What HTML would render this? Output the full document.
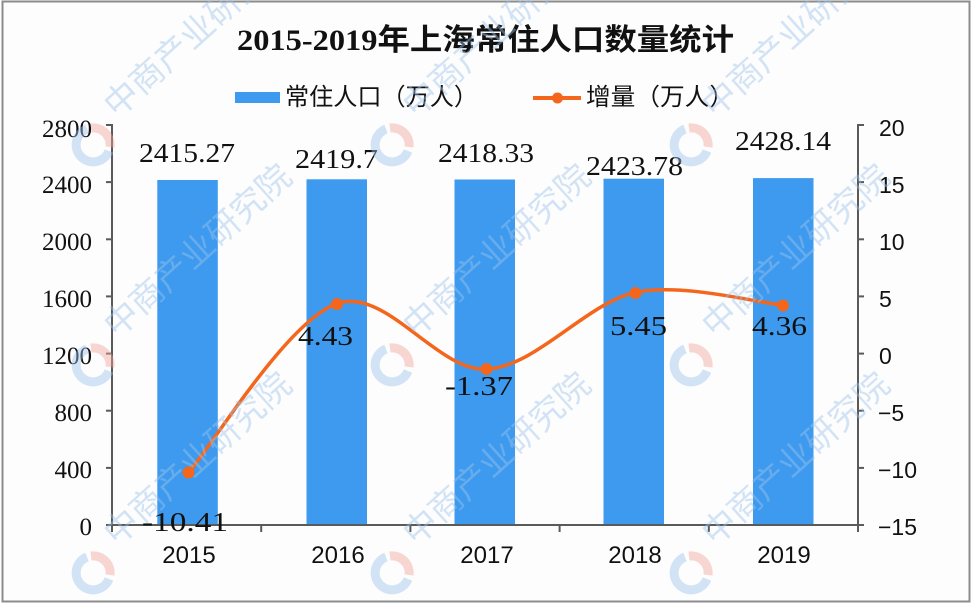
<!DOCTYPE html>
<html><head><meta charset="utf-8"><style>
html,body{margin:0;padding:0;background:#fff;}
svg{display:block;}
</style></head><body>
<svg width="972" height="604" viewBox="0 0 972 604" xmlns="http://www.w3.org/2000/svg">
<rect x="0" y="0" width="972" height="604" fill="#ffffff"/>
<rect x="2.5" y="1.5" width="967" height="600" fill="#fdfdfd" stroke="#8c8c8c" stroke-width="2"/>

<!-- title -->
<text x="237" y="50" font-family="Liberation Serif, 'Noto Sans CJK SC', sans-serif" font-weight="bold" font-size="30" textLength="497" lengthAdjust="spacingAndGlyphs" fill="#111">2015-2019年上海常住人口数量统计</text>

<!-- legend -->
<rect x="235" y="92" width="45" height="11" fill="#3d9aee"/>
<text x="285" y="105" font-family="'Liberation Sans','Noto Sans CJK SC',sans-serif" font-size="24" textLength="193" lengthAdjust="spacingAndGlyphs" fill="#111">常住人口（万人）</text>
<line x1="533" y1="98" x2="581" y2="98" stroke="#f4661c" stroke-width="4"/>
<circle cx="557.5" cy="98" r="5.5" fill="#f4661c"/>
<text x="586" y="105" font-family="'Liberation Sans','Noto Sans CJK SC',sans-serif" font-size="24" textLength="148" lengthAdjust="spacingAndGlyphs" fill="#111">增量（万人）</text>

<!-- bars -->
<g fill="#3d9aee">
<rect x="157.3" y="180" width="60.5" height="345"/>
<rect x="306.5" y="179.3" width="60.5" height="345.7"/>
<rect x="454.5" y="179.5" width="60.5" height="345.5"/>
<rect x="603.5" y="178.7" width="60.5" height="346.3"/>
<rect x="753" y="178.1" width="60.5" height="346.9"/>
</g>

<!-- axes -->
<g stroke="#5a5a5a" stroke-width="2" fill="none">
<line x1="112" y1="124" x2="112" y2="526"/>
<line x1="858" y1="124" x2="858" y2="526"/>
<line x1="111" y1="525" x2="859" y2="525"/>
<!-- left ticks -->
<line x1="106" y1="125" x2="112" y2="125"/>
<line x1="106" y1="182.1" x2="112" y2="182.1"/>
<line x1="106" y1="239.3" x2="112" y2="239.3"/>
<line x1="106" y1="296.4" x2="112" y2="296.4"/>
<line x1="106" y1="353.6" x2="112" y2="353.6"/>
<line x1="106" y1="410.7" x2="112" y2="410.7"/>
<line x1="106" y1="467.9" x2="112" y2="467.9"/>
<line x1="106" y1="525" x2="112" y2="525"/>
<!-- right ticks -->
<line x1="858" y1="125" x2="864" y2="125"/>
<line x1="858" y1="182.1" x2="864" y2="182.1"/>
<line x1="858" y1="239.3" x2="864" y2="239.3"/>
<line x1="858" y1="296.4" x2="864" y2="296.4"/>
<line x1="858" y1="353.6" x2="864" y2="353.6"/>
<line x1="858" y1="410.7" x2="864" y2="410.7"/>
<line x1="858" y1="467.9" x2="864" y2="467.9"/>
<line x1="858" y1="525" x2="864" y2="525"/>
<!-- x ticks -->
<line x1="112" y1="525" x2="112" y2="532"/>
<line x1="261.2" y1="525" x2="261.2" y2="532"/>
<line x1="410.4" y1="525" x2="410.4" y2="532"/>
<line x1="559.6" y1="525" x2="559.6" y2="532"/>
<line x1="708.8" y1="525" x2="708.8" y2="532"/>
<line x1="858" y1="525" x2="858" y2="532"/>
</g>

<!-- left axis labels -->
<g font-family="'Liberation Serif',serif" font-size="25" fill="#111" text-anchor="end">
<text x="92" y="137">2800</text>
<text x="92" y="193">2400</text>
<text x="92" y="250">2000</text>
<text x="92" y="307">1600</text>
<text x="92" y="364">1200</text>
<text x="92" y="421">800</text>
<text x="92" y="478">400</text>
<text x="92" y="535">0</text>
</g>
<!-- right axis labels -->
<g font-family="'Liberation Sans',sans-serif" font-size="23" fill="#111">
<text x="879" y="136">20</text>
<text x="879" y="193">15</text>
<text x="879" y="250">10</text>
<text x="879" y="307">5</text>
<text x="879" y="364">0</text>
<text x="878" y="421">−5</text>
<text x="878" y="478">−10</text>
<text x="878" y="535">−15</text>
</g>
<!-- x labels -->
<g font-family="'Liberation Sans',sans-serif" font-size="24" fill="#111" text-anchor="middle">
<text x="189" y="563">2015</text>
<text x="338" y="563">2016</text>
<text x="487" y="563">2017</text>
<text x="635" y="563">2018</text>
<text x="784" y="563">2019</text>
</g>

<!-- bar data labels -->
<g font-family="'Liberation Serif',serif" font-size="27" fill="#111" lengthAdjust="spacingAndGlyphs">
<text x="139" y="162" textLength="96" lengthAdjust="spacingAndGlyphs">2415.27</text>
<text x="295" y="168" textLength="83" lengthAdjust="spacingAndGlyphs">2419.7</text>
<text x="438" y="162" textLength="96" lengthAdjust="spacingAndGlyphs">2418.33</text>
<text x="586" y="175" textLength="97" lengthAdjust="spacingAndGlyphs">2423.78</text>
<text x="735" y="150" textLength="96" lengthAdjust="spacingAndGlyphs">2428.14</text>
</g>

<!-- line -->
<path d="M188.5,472.5 C213.2,444.4 286.9,321.3 337,303.5 C386.1,286.8 436.3,370.8 486,369.2 C535.8,367.2 585.5,303.6 635,292.5 C684.5,282.4 758.3,303.4 783,305" fill="none" stroke="#f4661c" stroke-width="3.5" stroke-linejoin="round"/>
<g fill="#f4661c">
<circle cx="188.5" cy="472.5" r="6"/>
<circle cx="337" cy="304" r="6"/>
<circle cx="486.5" cy="369" r="6"/>
<circle cx="635.5" cy="293" r="6"/>
<circle cx="783" cy="305.5" r="6"/>
</g>

<!-- line labels -->
<g font-family="'Liberation Serif',serif" font-size="27" fill="#111">
<text x="142" y="531" textLength="86" lengthAdjust="spacingAndGlyphs">-10.41</text>
<text x="298" y="345" textLength="55" lengthAdjust="spacingAndGlyphs">4.43</text>
<text x="445" y="395" textLength="68" lengthAdjust="spacingAndGlyphs">-1.37</text>
<text x="610" y="335" textLength="57" lengthAdjust="spacingAndGlyphs">5.45</text>
<text x="752" y="335" textLength="55" lengthAdjust="spacingAndGlyphs">4.36</text>
</g>

<!-- watermarks -->
<g opacity="0.45">
<g id="wm1" transform="translate(93,145)">
<path d="M -6 -16 A 17 17 0 1 0 16 6" fill="none" stroke="#9cc3ea" stroke-width="9"/>
<path d="M -2 -17 A 17 17 0 0 1 17 2" fill="none" stroke="#f0a49a" stroke-width="9"/>
<text x="24" y="-26" transform="rotate(-42 24 -26)" font-family="'Noto Sans CJK SC',sans-serif" font-size="34" fill="#9cc3ea">中商产业研究院</text>
</g>
<g transform="translate(392,145)">
<path d="M -6 -16 A 17 17 0 1 0 16 6" fill="none" stroke="#9cc3ea" stroke-width="9"/>
<path d="M -2 -17 A 17 17 0 0 1 17 2" fill="none" stroke="#f0a49a" stroke-width="9"/>
<text x="24" y="-26" transform="rotate(-42 24 -26)" font-family="'Noto Sans CJK SC',sans-serif" font-size="34" fill="#9cc3ea">中商产业研究院</text>
</g>
<g transform="translate(691,145)">
<path d="M -6 -16 A 17 17 0 1 0 16 6" fill="none" stroke="#9cc3ea" stroke-width="9"/>
<path d="M -2 -17 A 17 17 0 0 1 17 2" fill="none" stroke="#f0a49a" stroke-width="9"/>
<text x="24" y="-26" transform="rotate(-42 24 -26)" font-family="'Noto Sans CJK SC',sans-serif" font-size="34" fill="#9cc3ea">中商产业研究院</text>
</g>
<g transform="translate(93,365)">
<path d="M -6 -16 A 17 17 0 1 0 16 6" fill="none" stroke="#9cc3ea" stroke-width="9"/>
<path d="M -2 -17 A 17 17 0 0 1 17 2" fill="none" stroke="#f0a49a" stroke-width="9"/>
<text x="24" y="-26" transform="rotate(-42 24 -26)" font-family="'Noto Sans CJK SC',sans-serif" font-size="34" fill="#9cc3ea">中商产业研究院</text>
</g>
<g transform="translate(392,365)">
<path d="M -6 -16 A 17 17 0 1 0 16 6" fill="none" stroke="#9cc3ea" stroke-width="9"/>
<path d="M -2 -17 A 17 17 0 0 1 17 2" fill="none" stroke="#f0a49a" stroke-width="9"/>
<text x="24" y="-26" transform="rotate(-42 24 -26)" font-family="'Noto Sans CJK SC',sans-serif" font-size="34" fill="#9cc3ea">中商产业研究院</text>
</g>
<g transform="translate(691,365)">
<path d="M -6 -16 A 17 17 0 1 0 16 6" fill="none" stroke="#9cc3ea" stroke-width="9"/>
<path d="M -2 -17 A 17 17 0 0 1 17 2" fill="none" stroke="#f0a49a" stroke-width="9"/>
<text x="24" y="-26" transform="rotate(-42 24 -26)" font-family="'Noto Sans CJK SC',sans-serif" font-size="34" fill="#9cc3ea">中商产业研究院</text>
</g>
<g transform="translate(93,573)">
<path d="M -6 -16 A 17 17 0 1 0 16 6" fill="none" stroke="#9cc3ea" stroke-width="9"/>
<path d="M -2 -17 A 17 17 0 0 1 17 2" fill="none" stroke="#f0a49a" stroke-width="9"/>
<text x="24" y="-26" transform="rotate(-42 24 -26)" font-family="'Noto Sans CJK SC',sans-serif" font-size="34" fill="#9cc3ea">中商产业研究院</text>
</g>
<g transform="translate(392,573)">
<path d="M -6 -16 A 17 17 0 1 0 16 6" fill="none" stroke="#9cc3ea" stroke-width="9"/>
<path d="M -2 -17 A 17 17 0 0 1 17 2" fill="none" stroke="#f0a49a" stroke-width="9"/>
<text x="24" y="-26" transform="rotate(-42 24 -26)" font-family="'Noto Sans CJK SC',sans-serif" font-size="34" fill="#9cc3ea">中商产业研究院</text>
</g>
<g transform="translate(691,573)">
<path d="M -6 -16 A 17 17 0 1 0 16 6" fill="none" stroke="#9cc3ea" stroke-width="9"/>
<path d="M -2 -17 A 17 17 0 0 1 17 2" fill="none" stroke="#f0a49a" stroke-width="9"/>
<text x="24" y="-26" transform="rotate(-42 24 -26)" font-family="'Noto Sans CJK SC',sans-serif" font-size="34" fill="#9cc3ea">中商产业研究院</text>
</g>
</g>
</svg>
</body></html>
